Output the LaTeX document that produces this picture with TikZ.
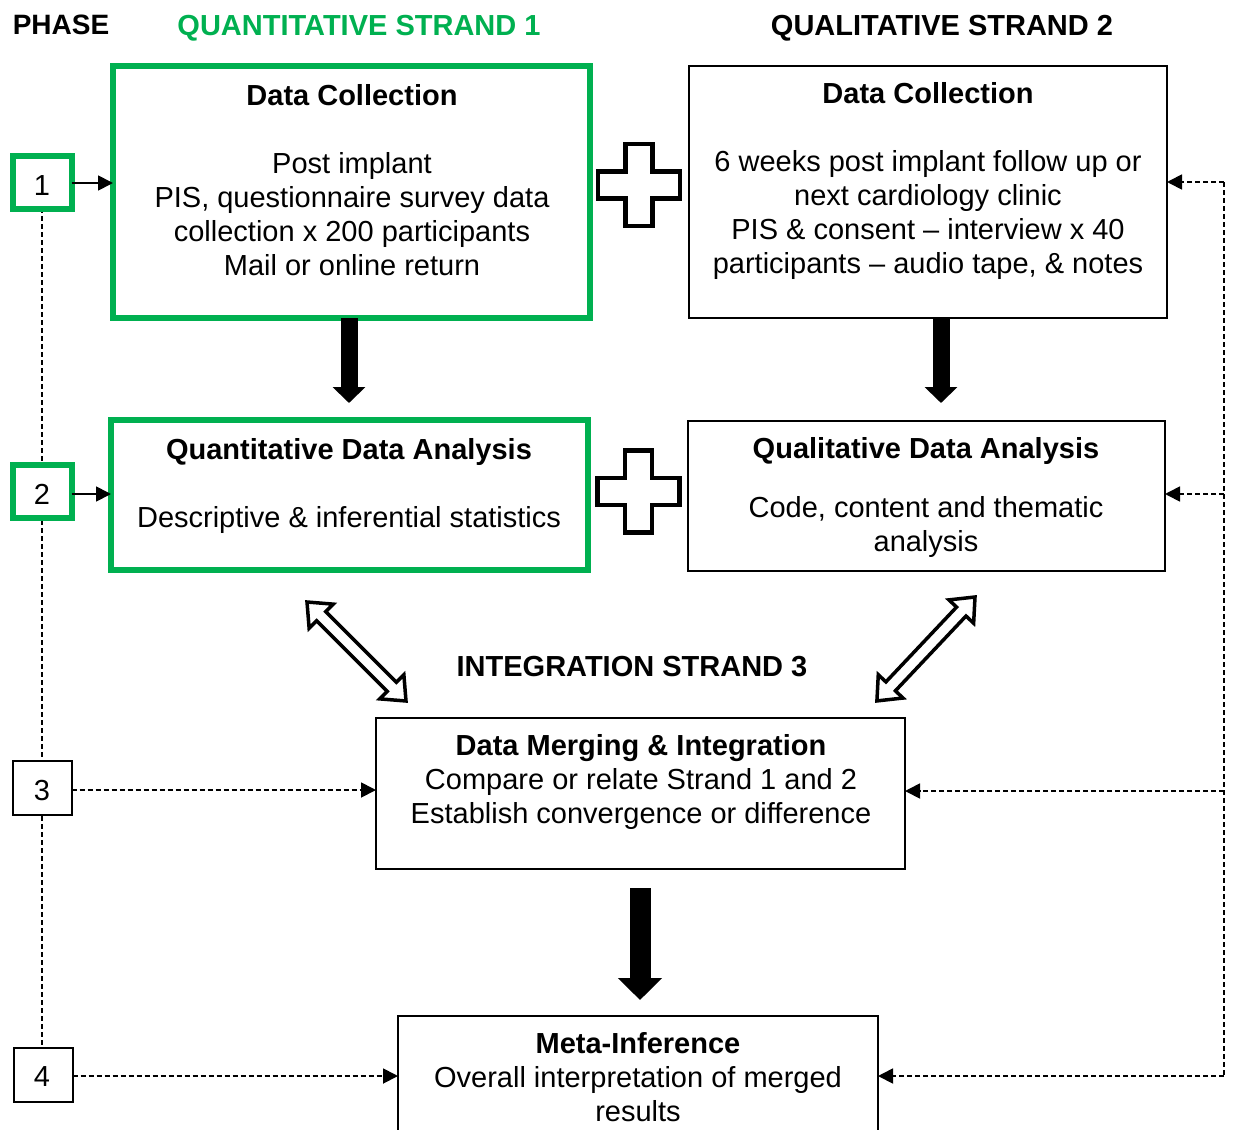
\documentclass[tikz,border=0pt]{standalone}
\usepackage{fontspec}
\setmainfont{Liberation Sans}
\usetikzlibrary{arrows.meta,calc}
\definecolor{strandgreen}{HTML}{00B050}

% hollow double-headed block arrow: start point, direction angle, length
\newcommand\hollowdouble[3]{%
  \begin{scope}[shift={(#1)}, rotate=#2]
    \draw[hollowarrow] (0,0) -- (20,17) -- (20,6.5) -- (#3-20,6.5) -- (#3-20,17)
      -- (#3,0) -- (#3-20,-17) -- (#3-20,-6.5) -- (20,-6.5) -- (20,-17) -- cycle;
  \end{scope}}

% plus sign outline centred on a point
\newcommand\plussign[1]{%
  \begin{scope}[shift={(#1)}]
    \draw[plusline] (-13.5,-41) -- (13.5,-41) -- (13.5,-13.5) -- (41,-13.5) -- (41,13.5)
      -- (13.5,13.5) -- (13.5,41) -- (-13.5,41) -- (-13.5,13.5) -- (-41,13.5)
      -- (-41,-13.5) -- (-13.5,-13.5) -- cycle;
  \end{scope}}

\begin{document}
\begin{tikzpicture}[x=1pt, y=-1pt,
  every node/.style={inner sep=0pt, outer sep=0pt},
  body/.style={font=\fontsize{29}{34}\selectfont, align=center, anchor=base},
  title/.style={font=\fontsize{29}{34}\selectfont\bfseries, anchor=base},
  greenbox/.style={draw=strandgreen, line width=6pt, fill=white, rectangle},
  plainbox/.style={draw=black, line width=2pt, fill=white, rectangle},
  phasegreen/.style={greenbox, minimum width=59pt, minimum height=53pt},
  phaseplain/.style={plainbox, minimum width=59pt, minimum height=54pt},
  phasenum/.style={font=\fontsize{29}{34}\selectfont, anchor=base},
  link/.style={line width=1.8pt, -{Triangle[length=15pt,width=15pt]}},
  dashlink/.style={link, dash pattern=on 5pt off 3pt},
  dashline/.style={line width=1.8pt, dash pattern=on 5pt off 3pt},
  hollowarrow/.style={line width=3.5pt, line join=miter, fill=white},
  plusline/.style={line width=4.5pt, line join=miter, fill=white},
  bigarrow/.style={line width=17pt, -{Triangle[length=16pt,width=32pt]}},
  hugearrow/.style={line width=21pt, -{Triangle[length=22pt,width=43pt]}}
]
\useasboundingbox (0,0) rectangle (1233,1129);
\clip (0,0) rectangle (1233,1129);

% column headings
\node[title, font=\fontsize{28}{34}\selectfont\bfseries] (hphase) at (61,35) {PHASE};
\node[title, text=strandgreen] (hquant) at (359,36) {QUANTITATIVE STRAND 1};
\node[title] (hqual) at (942,36) {QUALITATIVE STRAND 2};
\node[title] (hinteg) at (632,676) {INTEGRATION STRAND 3};

% phase markers and the dashed spine joining them
\coordinate (spinetop) at (42,208);
\coordinate (spinebot) at (42,1047);
\draw[dashline] (spinetop) -- (spinebot);
\node[phasegreen] (p1) at (42,182) {};
\node[phasegreen] (p2) at (42,491.5) {};
\node[phaseplain] (p3) at (42,788) {};
\node[phaseplain] (p4) at (43,1074.5) {};
\node[phasenum] (n1) at (42,195) {1};
\node[phasenum] (n2) at (42,504) {2};
\node[phasenum] (n3) at (42,800) {3};
\node[phasenum] (n4) at (42,1086) {4};

% strand boxes
\node[greenbox, minimum width=477pt, minimum height=252pt] (qndc) at (351.5,192) {};
\node[plainbox, minimum width=478pt, minimum height=252pt] (qldc) at (928,192) {};
\node[greenbox, minimum width=477pt, minimum height=150pt] (qnda) at (349.5,495) {};
\node[plainbox, minimum width=477.5pt, minimum height=150pt] (qlda) at (926.25,496) {};
\node[plainbox, minimum width=529pt, minimum height=151pt] (merge) at (640.5,793) {};
\node[plainbox, minimum width=480pt, minimum height=150pt] (meta) at (638,1091) {};

% box texts (a multi-line node sits on the baseline of its last line)
\node[title] (tqndc) at (352,106) {Data Collection};
\node[body] (bqndc) at (352,275) {Post implant\\PIS, questionnaire survey data\\collection x 200 participants\\Mail or online return};
\node[title] (tqldc) at (928,103) {Data Collection};
\node[body] (bqldc) at (928,273) {6 weeks post implant follow up or\\next cardiology clinic\\PIS \& consent -- interview x 40\\participants -- audio tape, \& notes};
\node[title] (tqnda) at (349,459) {Quantitative Data Analysis};
\node[body] (bqnda) at (349,527) {Descriptive \& inferential statistics};
\node[title] (tqlda) at (926,458) {Qualitative Data Analysis};
\node[body] (bqlda) at (926,551) {Code, content and thematic\\analysis};
\node[title] (tmerge) at (641,755) {Data Merging \& Integration};
\node[body] (bmerge) at (641,823) {Compare or relate Strand 1 and 2\\Establish convergence or difference};
\node[title] (tmeta) at (638,1053) {Meta-Inference};
\node[body] (bmeta) at (638,1121) {Overall interpretation of merged\\results};

% plus signs between the strands
\coordinate (plusA) at (639,185);
\coordinate (plusB) at (638.5,491.5);
\plussign{plusA}
\plussign{plusB}

% flow within the strands
\draw[bigarrow, shorten >=17pt] ($(qndc.south)+(-2.5,0)$) -- ($(qnda.north)+(-0.5,0)$);
\draw[bigarrow, shorten >=18pt] ($(qldc.south)+(13,0)$) -- ($(qlda.north)+(14.75,0)$);
\draw[hugearrow, shorten <=19.5pt, shorten >=16pt] ($(merge.south)+(-0.5,0)$) -- ($(meta.north)+(2,0)$);

% exchange between analysis and integration
\coordinate (xa) at (307,602);
\coordinate (xb) at (975,597);
\hollowdouble{xa}{-45}{140}
\hollowdouble{xb}{-133.35}{142.9}

% phase links on the left
\draw[link] (p1.east |- 0,183) -- (qndc.west |- 0,183);
\draw[link] (p2.east |- 0,494) -- (qnda.west |- 0,494);
\draw[dashlink] (p3.east |- 0,790) -- (merge.west |- 0,790);
\draw[dashlink] (p4.east |- 0,1076) -- (meta.west |- 0,1076);

% feedback links on the right
\coordinate (r1) at (1224,182);
\coordinate (r2) at (1224,494);
\coordinate (r3) at (1224,791);
\coordinate (r4) at (1224,1076);
\draw[dashline] (r1) -- (r4);
\draw[dashlink] (r1) -- (r1 -| qldc.east);
\draw[dashlink] (r2) -- (r2 -| qlda.east);
\draw[dashlink] (r3) -- (r3 -| merge.east);
\draw[dashlink] (r4) -- (r4 -| meta.east);
\end{tikzpicture}
\end{document}
